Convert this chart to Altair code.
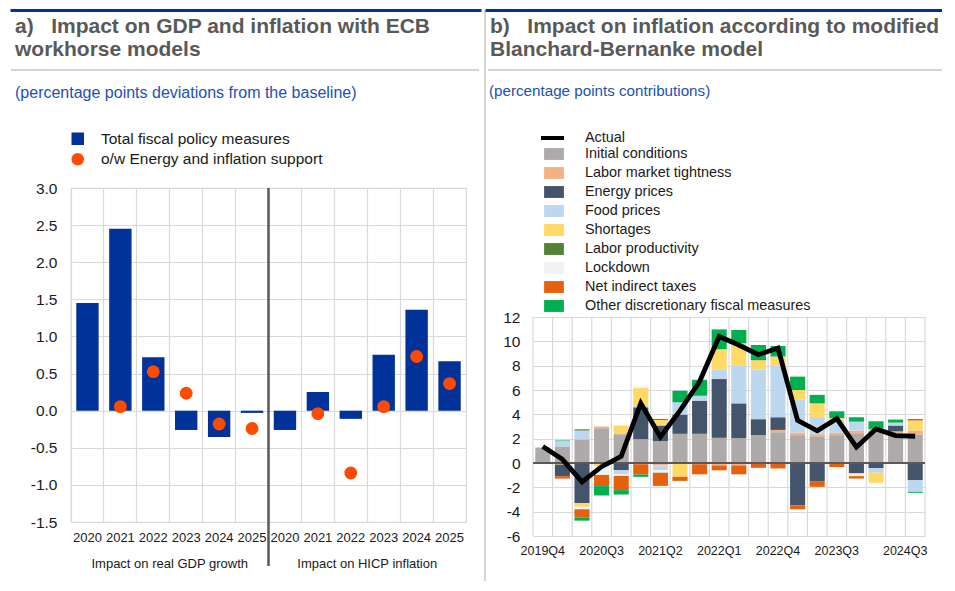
import altair as alt
import pandas as pd

FONT = "Liberation Sans"
GRID = "#d9d9d9"
TITLE_GREY = "#595959"
SUB_BLUE = "#2251b0"
AXIS_TXT = "#1a1a1a"

# ---------------- panel a data ----------------
a_groups = ["Impact on real GDP growth", "Impact on HICP inflation"]
a_years = ["2020", "2021", "2022", "2023", "2024", "2025"]
a_total_gdp = [1.45, 2.45, 0.72, -0.26, -0.355, -0.03]
a_total_hicp = [-0.26, 0.25, -0.11, 0.755, 1.36, 0.665]
a_energy_gdp = [None, 0.055, 0.525, 0.235, -0.18, -0.24]
a_energy_hicp = [None, -0.04, -0.84, 0.055, 0.73, 0.365]
a_series = ["Total fiscal policy measures", "o/w Energy and inflation support"]
a_y_ticks = [-1.5, -1.0, -0.5, 0.0, 0.5, 1.0, 1.5, 2.0, 2.5, 3.0]

# ---------------- panel b data ----------------
quarters = ["2019Q4", "2020Q1", "2020Q2", "2020Q3", "2020Q4",
            "2021Q1", "2021Q2", "2021Q3", "2021Q4",
            "2022Q1", "2022Q2", "2022Q3", "2022Q4",
            "2023Q1", "2023Q2", "2023Q3", "2023Q4",
            "2024Q1", "2024Q2", "2024Q3"]
b_tick_labels = ["2019Q4", "2020Q3", "2021Q2", "2022Q1", "2022Q4", "2023Q3", "2024Q3"]
b_y_ticks = [-6, -4, -2, 0, 2, 4, 6, 8, 10, 12]
b_components = ["Initial conditions", "Labor market tightness", "Energy prices",
                "Food prices", "Shortages", "Labor productivity", "Lockdown",
                "Net indirect taxes", "Other discretionary fiscal measures"]
initial_conditions = [1.28, 1.36, 1.93, 2.86, 2.37, 1.96, 1.80, 2.40, 2.40, 2.07,
                      2.04, 2.30, 2.53, 2.29, 2.20, 2.29, 2.45, 2.67, 2.34, 2.32]
labor_market = [0, -0.13, 0, 0.14, 0, -0.10, -0.20, 0, -0.10, -0.20,
                -0.20, -0.05, 0.19, 0.21, 0.17, 0.19, 0.22, 0.13, 0.26, 0.35]
energy_prices = [0, -0.95, -3.30, 0, -0.60, 2.62, 1.28, 1.58, 2.72, 4.83,
                 2.86, 1.30, 1.04, -3.49, -1.53, 0, -0.82, -0.41, 0.48, -1.42]
food_prices = [0, 0.44, 0.74, 0, -0.33, 0.08, -0.40, 1.01, 0.41, 0.80,
               3.08, 4.08, 4.22, 2.70, 1.33, 1.09, 0.73, -0.38, 0.24, -0.95]
shortages = [0, 0, -0.30, -0.28, 0.71, 1.50, 0.46, -1.14, 0, 1.65,
             1.86, 0.77, 0.77, 0.80, 1.20, 0.13, -0.13, -0.84, 0, 0.82]
labor_productivity = [0, 0, 0.10, 0, 0, 0, 0.08, 0, 0, 0,
                      0, 0.10, 0, 0, 0, 0, 0, 0, 0, 0]
lockdown = [0, 0, -0.20, -0.70, -0.13, 0.16, -0.20, 0, 0, 0,
            0, 0, 0, 0, 0, 0, -0.13, -0.07, 0, 0]
net_indirect_taxes = [0, -0.20, -0.67, -0.92, -1.17, -0.85, -1.03, -0.33, -0.83, -0.40,
                      -0.73, -0.35, -0.45, -0.32, -0.43, -0.33, -0.20, 0, 0, 0.13]
other_fiscal = [0, 0.05, -0.27, -0.77, -0.36, -0.19, -0.07, 0.95, 1.31, 1.63,
                1.09, 1.15, 0.87, 1.10, 0.70, 0.55, 0.36, 0.63, 0.25, -0.08]
actual = [1.35, 0.30, -1.55, -0.30, 0.55, 4.90, 2.15, 4.30, 6.70, 10.40,
          9.70, 8.90, 9.45, 3.50, 2.65, 3.65, 1.30, 2.80, 2.25, 2.20]

b_colors = ["#aeaaaa", "#f4b183", "#44546a", "#bdd7ee", "#ffd966",
            "#548235", "#f2f2f2", "#e6610f", "#00b050"]

# ---------------- helpers ----------------
one = pd.DataFrame({"d": [0]})


def text_layer(lines, x, y, size, color, weight="normal", lh=None):
    kw = dict(text=lines, align="left", baseline="alphabetic", font=FONT,
              fontSize=size, fontWeight=weight, color=color)
    if lh:
        kw["lineHeight"] = lh
    return alt.Chart(one).mark_text(**kw).encode(x=alt.value(x), y=alt.value(y))


def hrule(x1, x2, y, color, w):
    return alt.Chart(one).mark_rule(color=color, strokeWidth=w).encode(
        x=alt.value(x1), x2=alt.value(x2), y=alt.value(y))


def vrule(x, y1, y2, color, w):
    return alt.Chart(one).mark_rule(color=color, strokeWidth=w).encode(
        x=alt.value(x), y=alt.value(y1), y2=alt.value(y2))


NB = "\u00a0\u00a0\u00a0"

# ---------------- panel a ----------------
W_A, H_A = 395, 334
slots = [f"{g}|{y}" for g in range(2) for y in a_years]
df_a = pd.DataFrame({"slot": slots, "total": a_total_gdp + a_total_hicp,
                     "series": a_series[0]})
dot_pairs = [(s, v) for s, v in zip(slots, a_energy_gdp + a_energy_hicp) if v is not None]
df_dots = pd.DataFrame({"slot": [p[0] for p in dot_pairs],
                        "energy": [p[1] for p in dot_pairs],
                        "series": a_series[1]})

ax_xa = alt.Axis(title=None, labelExpr="split(datum.label, '|')[1]", labelAngle=0,
                 ticks=False, domain=False, grid=True, gridColor=GRID, gridWidth=1.2,
                 bandPosition=0, labelFontSize=13, labelColor=AXIS_TXT,
                 labelPadding=9, labelFont=FONT)
ax_ya = alt.Axis(title=None, values=a_y_ticks,
                 labelExpr="replace(format(datum.value, '.1f'), '\u2212', '-')",
                 ticks=False, domain=False, grid=True, gridColor=GRID, gridWidth=1.2,
                 labelFontSize=15.5, labelColor=AXIS_TXT, labelPadding=14,
                 labelFont=FONT)
sc_xa = alt.Scale(domain=slots, paddingInner=0, paddingOuter=0)
sc_ya = alt.Scale(domain=[-1.5, 3.0], nice=False, zero=False)

bars_a = alt.Chart(df_a).mark_bar(width=alt.RelativeBandSize(0.68)).encode(
    x=alt.X("slot:N", scale=sc_xa, axis=ax_xa),
    y=alt.Y("total:Q", scale=sc_ya, axis=ax_ya),
    color=alt.Color("series:N", scale=alt.Scale(domain=[a_series[0]], range=["#003299"]),
                    legend=alt.Legend(title=None, orient="none", legendX=-1, legendY=-57,
                                      symbolType="square", symbolSize=156,
                                      labelFontSize=15.5, labelOffset=15.5, labelLimit=0,
                                      labelColor=AXIS_TXT, padding=0, labelFont=FONT,
                                      symbolStrokeWidth=0)))

dots_a = alt.Chart(df_dots).mark_circle(size=165, opacity=1).encode(
    x=alt.X("slot:N", scale=sc_xa, axis=ax_xa),
    y=alt.Y("energy:Q", scale=sc_ya, axis=ax_ya),
    fill=alt.Fill("series:N", scale=alt.Scale(domain=[a_series[1]], range=["#ff4b00"]),
                  legend=alt.Legend(title=None, orient="none", legendX=-1, legendY=-36.5,
                                    symbolType="circle", symbolSize=156,
                                    labelFontSize=15.5, labelOffset=15.5, labelLimit=0,
                                    labelColor=AXIS_TXT, padding=0, labelFont=FONT,
                                    symbolStrokeWidth=0)))

divider_a = alt.Chart(pd.DataFrame({"slot": [slots[5]]})).mark_rule(
    color="#595959", strokeWidth=2.5).encode(
    x=alt.X("slot:N", bandPosition=1, scale=sc_xa, axis=ax_xa),
    y=alt.value(0), y2=alt.value(H_A + 44))

groups_a = alt.Chart(pd.DataFrame({"slot": [slots[2], slots[8]], "label": a_groups})).mark_text(
    fontSize=13, font=FONT, color=AXIS_TXT, baseline="alphabetic", align="center").encode(
    x=alt.X("slot:N", bandPosition=1, scale=sc_xa, axis=ax_xa),
    y=alt.value(380), text="label:N")

panel_a = alt.layer(
    hrule(-60.5, 410.5, -177.5, "#003299", 3),
    hrule(-60, 408, -118, "#d4d4d4", 2),
    text_layer(["a)" + NB + "Impact on GDP and inflation with ECB", "workhorse models"],
               -56, -155, 21, TITLE_GREY, "bold", 23),
    text_layer("(percentage points deviations from the baseline)", -56, -90.5, 16, SUB_BLUE),
    bars_a, dots_a, divider_a, groups_a,
).properties(width=W_A, height=H_A)

# ---------------- panel b ----------------
# the view of panel b starts at the same top as panel a; its y scale uses the lower part
W_B, H_B_VIEW, H_B_PLOT = 392, 348, 219
comp_values = [initial_conditions, labor_market, energy_prices, food_prices, shortages,
               labor_productivity, lockdown, net_indirect_taxes, other_fiscal]
rows = []
for qi, q in enumerate(quarters):
    for ci, comp in enumerate(b_components):
        v = comp_values[ci][qi]
        if v != 0:
            rows.append({"quarter": q, "component": comp, "value": v, "order": ci})
df_b = pd.DataFrame(rows)
df_line = pd.DataFrame({"quarter": quarters, "actual": actual, "series": "Actual"})

ax_xb = alt.Axis(title=None,
                 labelExpr=f"indexof({b_tick_labels}, datum.value) >= 0 ? datum.label : ''",
                 labelAngle=0, ticks=False, domain=False, grid=False, bandPosition=0.5,
                 labelFontSize=12.5,
                 labelColor=AXIS_TXT, labelPadding=8.5, labelOverlap=False,
                 labelOffset={"condition": {"test": "datum.value == '2024Q3'", "value": -10},
                              "value": 0},
                 labelFont=FONT)
ax_yb = alt.Axis(title=None, values=b_y_ticks,
                 labelExpr="replace(format(datum.value, 'd'), '\u2212', '-')",
                 ticks=False, domain=False, grid=True, gridColor=GRID, gridWidth=1.2,
                 labelFontSize=15.5, labelColor=AXIS_TXT, labelPadding=13,
                 labelFont=FONT)
sc_xb = alt.Scale(domain=quarters, paddingInner=0, paddingOuter=0)
sc_yb = alt.Scale(domain=[-6, 12], nice=False, range=[H_B_VIEW, H_B_VIEW - H_B_PLOT])

vgrid_b = alt.Chart(pd.DataFrame({"quarter": quarters})).mark_rule(
    color=GRID, strokeWidth=1.2).encode(
    x=alt.X("quarter:N", bandPosition=0, scale=sc_xb, axis=ax_xb),
    y=alt.Y(datum=b_y_ticks[-1], scale=sc_yb, axis=ax_yb), y2=alt.datum(b_y_ticks[0]))
vedge_b = alt.Chart(pd.DataFrame({"quarter": [quarters[-1]]})).mark_rule(
    color=GRID, strokeWidth=1.2).encode(
    x=alt.X("quarter:N", bandPosition=1, scale=sc_xb, axis=ax_xb),
    y=alt.Y(datum=b_y_ticks[-1], scale=sc_yb, axis=ax_yb), y2=alt.datum(b_y_ticks[0]))

bars_b = alt.Chart(df_b).mark_bar(width=alt.RelativeBandSize(0.77)).encode(
    x=alt.X("quarter:N", scale=sc_xb, axis=ax_xb),
    y=alt.Y("value:Q", stack="zero", scale=sc_yb, axis=ax_yb),
    color=alt.Color("component:N", scale=alt.Scale(domain=b_components, range=b_colors),
                    legend=alt.Legend(title=None, orient="none", legendX=12, legendY=-43,
                                      symbolType="M-1.1,-0.66H1.1V0.66H-1.1Z", symbolSize=324,
                                      rowPadding=3.0, labelFontSize=14.4, labelOffset=22,
                                      labelLimit=0,
                                      padding=0, labelColor=AXIS_TXT, labelFont=FONT,
                                      symbolStrokeWidth=0)),
    order=alt.Order("order:Q"))

zero_b = alt.Chart(pd.DataFrame({"zero": [0]})).mark_rule(color="#595959", strokeWidth=1.8).encode(
    y=alt.Y("zero:Q", scale=sc_yb, axis=ax_yb), x=alt.value(0), x2=alt.value(W_B))

line_b = alt.Chart(df_line).mark_line(strokeWidth=4.8).encode(
    x=alt.X("quarter:N", scale=sc_xb, axis=ax_xb),
    y=alt.Y("actual:Q", scale=sc_yb, axis=ax_yb),
    stroke=alt.Stroke("series:N", scale=alt.Scale(domain=["Actual"], range=["#000000"]),
                      legend=alt.Legend(title=None, orient="none", legendX=6, legendY=-63.5,
                                        symbolType="stroke", symbolSize=529, symbolStrokeWidth=4,
                                        labelFontSize=14.4, labelOffset=19, padding=0,
                                        labelLimit=0,
                                        labelColor=AXIS_TXT, labelFont=FONT)))

panel_b = alt.layer(
    vrule(-48, -177.5, 393, "#d4d4d4", 2),
    hrule(-47.5, 409, -177.5, "#003299", 3),
    hrule(-45, 409, -118, "#d4d4d4", 2),
    text_layer(["b)" + NB + "Impact on inflation according to modified", "Blanchard-Bernanke model"],
               -43, -155, 21, TITLE_GREY, "bold", 23),
    text_layer("(percentage points contributions)", -44, -92.5, 15.2, SUB_BLUE),
    vgrid_b, vedge_b, bars_b, zero_b, line_b,
).properties(width=W_B, height=H_B_VIEW, view=alt.ViewBackground(stroke=None))

chart = alt.hconcat(panel_a, panel_b, spacing=0).resolve_scale(
    x="independent", y="independent", color="independent", fill="independent",
    stroke="independent").resolve_legend(
    color="independent", fill="independent", stroke="independent").properties(
    padding=0, background="white").configure(font=FONT).configure_view(
    stroke="#d9d9d9", strokeWidth=1.2)

chart.save("out.html", embed_options={"renderer": "svg", "actions": False})
